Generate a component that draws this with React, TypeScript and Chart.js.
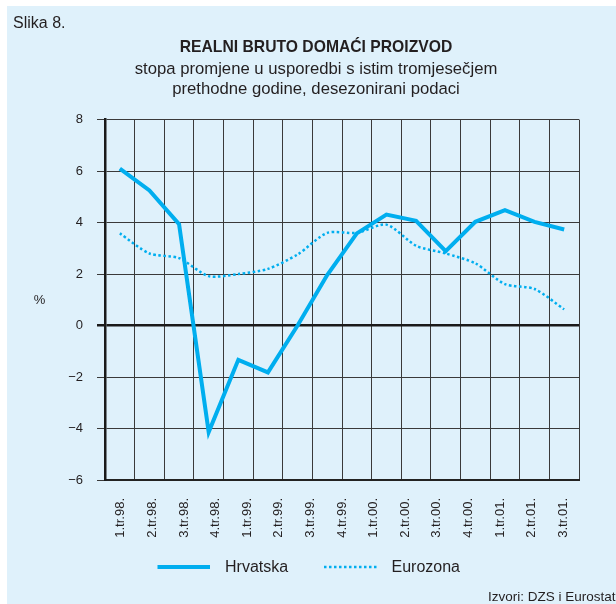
import React, { useEffect, useRef } from "react";
import { Chart, registerables } from "chart.js";

Chart.register(...registerables);

// ---- data ----
const quarters = [
  "1.tr.98.", "2.tr.98.", "3.tr.98.", "4.tr.98.",
  "1.tr.99.", "2.tr.99.", "3.tr.99.", "4.tr.99.",
  "1.tr.00.", "2.tr.00.", "3.tr.00.", "4.tr.00.",
  "1.tr.01.", "2.tr.01.", "3.tr.01.", "4.tr.01.",
];
const tickLabels = [
  "1.tr.98.", "2.tr.98.", "3.tr.98.", "4.tr.98.",
  "1.tr.99.", "2.tr.99.", "3.tr.99.", "4.tr.99.",
  "1.tr.00.", "2.tr.00.", "3.tr.00.", "4.tr.00.",
  "1.tr.01.", "2.tr.01.", "3.tr.01.",
];
const hrvatska = [6.1, 5.25, 3.94, -4.14, -1.33, -1.82, 0.0, 1.96, 3.58, 4.31, 4.07, 2.89, 4.03, 4.48, 4.03, 3.73];
const eurozona = [3.58, 2.8, 2.62, 1.92, 2.0, 2.2, 2.76, 3.6, 3.6, 3.92, 3.1, 2.8, 2.42, 1.61, 1.42, 0.63];

const figureLabel = "Slika 8.";
const titleText = "REALNI BRUTO DOMAĆI PROIZVOD";
const subtitleLines = ["stopa promjene u usporedbi s istim tromjesečjem", "prethodne godine, desezonirani podaci"];
const yAxisLabel = "%";
const sourceText = "Izvori: DZS i Eurostat";
const seriesNames = ["Hrvatska", "Eurozona"];
const yMin = -6;
const yMax = 8;
const yStep = 2;

// ---- styles ----
const W = 609;
const H = 598;
const BG = "#dff1fb";
const CYAN = "#00aeef";
const TEXT = "#231f20";
const FONT = '"Liberation Sans", Arial, Helvetica, sans-serif';

const extrasPlugin = {
  id: "extras",
  afterDraw(chart: any) {
    const ctx = chart.ctx;
    ctx.save();
    ctx.fillStyle = TEXT;
    ctx.textBaseline = "middle";

    ctx.textAlign = "left";
    ctx.font = `16px ${FONT}`;
    ctx.fillText(figureLabel, 6, 18);

    ctx.textAlign = "center";
    ctx.font = `13px ${FONT}`;
    ctx.fillText(yAxisLabel, 32.5, 294);

    // legend
    const items = [
      { x: 150.5, textX: 218 },
      { x: 317, textX: 384.5 },
    ];
    chart.data.datasets.forEach((ds: any, i: number) => {
      const it = items[i];
      const y = 561;
      ctx.save();
      ctx.strokeStyle = ds.borderColor;
      ctx.lineWidth = ds.borderWidth;
      ctx.setLineDash(ds.borderDash || []);
      ctx.lineCap = "butt";
      ctx.beginPath();
      ctx.moveTo(it.x, y);
      ctx.lineTo(it.x + 52.5, y);
      ctx.stroke();
      ctx.restore();
      ctx.textAlign = "left";
      ctx.font = `16px ${FONT}`;
      ctx.fillStyle = TEXT;
      ctx.fillText(ds.label, it.textX, y + 1);
    });

    ctx.textAlign = "left";
    ctx.font = `13.5px ${FONT}`;
    ctx.fillText(sourceText, 481, 591);
    ctx.restore();
  },
};

export default function App() {
  const canvasRef = useRef<HTMLCanvasElement | null>(null);

  useEffect(() => {
    const canvas = canvasRef.current;
    if (!canvas) return;
    const chart = new Chart(canvas, {
      type: "line",
      data: {
        labels: quarters,
        datasets: [
          {
            label: seriesNames[0],
            data: hrvatska,
            borderColor: CYAN,
            borderWidth: 4,
            pointRadius: 0,
            tension: 0,
            fill: false,
            borderJoinStyle: "miter",
            xAxisID: "x",
          },
          {
            label: seriesNames[1],
            data: eurozona,
            borderColor: CYAN,
            borderWidth: 2.5,
            borderDash: [2.5, 2.5],
            pointRadius: 0,
            tension: 0.25,
            fill: false,
            xAxisID: "x",
          },
        ],
      },
      options: {
        responsive: false,
        animation: false,
        layout: { padding: { left: 46, right: 37, top: 0, bottom: 44 } },
        plugins: {
          legend: { display: false },
          tooltip: { enabled: false },
          title: {
            display: true,
            text: titleText,
            color: TEXT,
            font: { family: FONT, size: 15.7, weight: "bold", lineHeight: 1.2 },
            padding: { top: 32.1, bottom: 0 },
          },
          subtitle: {
            display: true,
            text: subtitleLines,
            color: TEXT,
            font: { family: FONT, size: 16.7, lineHeight: 1.2 },
            padding: { top: 2.1, bottom: 20.5 },
          },
        },
        scales: {
          x: {
            type: "category",
            offset: true,
            position: "bottom",
            grid: { offset: true, color: "#3a3a3a", lineWidth: 1, drawTicks: false },
            border: { display: true, color: "#222", width: 2 },
            ticks: { display: false },
            afterFit: (s: any) => {
              s.height = 0;
            },
          },
          x2: {
            type: "category",
            labels: tickLabels,
            offset: true,
            position: "bottom",
            grid: { display: false, drawTicks: false },
            border: { display: false },
            ticks: {
              autoSkip: false,
              minRotation: 90,
              maxRotation: 90,
              padding: 18,
              color: TEXT,
              font: { family: FONT, size: 13 },
            },
            afterFit: (s: any) => {
              s.height = 80;
            },
          },
          y: {
            min: yMin,
            max: yMax,
            ticks: {
              stepSize: yStep,
              padding: 14,
              color: TEXT,
              font: { family: FONT, size: 13 },
              callback: (v: any) => (Number(v) < 0 ? "\u2212" + Math.abs(Number(v)) : String(v)),
            },
            grid: {
              color: (c: any) => (c.tick && c.tick.value === 0 ? "#1a1a1a" : "#3a3a3a"),
              lineWidth: (c: any) => (c.tick && c.tick.value === 0 ? 2.5 : 1),
              tickLength: 8,
            },
            border: { color: "#1a1a1a", width: 2.5 },
            afterFit: (s: any) => {
              s.width = 52;
            },
          },
        },
      },
      plugins: [extrasPlugin],
    });
    return () => chart.destroy();
  }, []);

  return (
    <div
      style={{
        position: "absolute",
        left: 7,
        top: 6,
        width: W,
        height: H,
        background: BG,
      }}
    >
      <canvas ref={canvasRef} width={W} height={H} style={{ display: "block" }} />
    </div>
  );
}
